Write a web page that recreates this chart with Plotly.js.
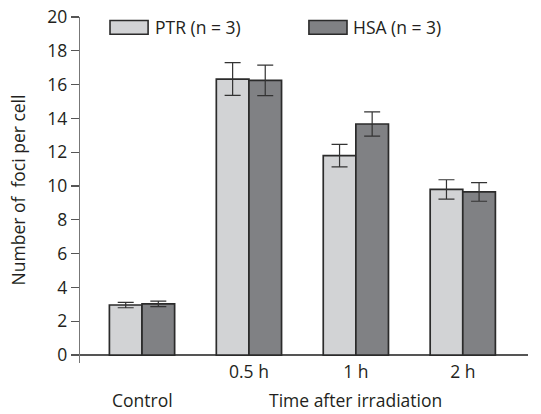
<!DOCTYPE html>
<html>
<head>
<meta charset="utf-8">
<script src="https://cdn.plot.ly/plotly-3.0.1.min.js"></script>
<style>html,body{margin:0;padding:0;background:#fff}#chart{width:541px;height:414px}</style>
</head>
<body>
<div id="chart"></div>
<script>
const categories = ["Control", "0.5 h", "1 h", "2 h"];
const seriesNames = ["PTR (n = 3)", "HSA (n = 3)"];
const ptrValues = [2.96, 16.33, 11.8, 9.8];
const ptrErrors = [0.16, 0.97, 0.67, 0.57];
const hsaValues = [3.03, 16.25, 13.67, 9.65];
const hsaErrors = [0.16, 0.9, 0.72, 0.55];
const yTicks = [0, 2, 4, 6, 8, 10, 12, 14, 16, 18, 20];
const xTitle = "Time after irradiation";
const yTitle = "Number of  foci per cell";

const FONT = "Open Sans, Noto Sans, sans-serif";
const FS = 17.5;
const TXT = "#231f20";
const colors = ["#d2d3d5", "#808184"];
const edge = "#2b2b2b";

function bar(name, vals, errs, color) {
  return {
    type: "bar", name: name, x: categories, y: vals,
    marker: {color: color, line: {color: edge, width: 1.7}},
    error_y: {type: "data", array: errs, visible: true, color: "#333", thickness: 1.2, width: 8},
    showlegend: false, hoverinfo: "skip"
  };
}
const data = [
  bar(seriesNames[0], ptrValues, ptrErrors, colors[0]),
  bar(seriesNames[1], hsaValues, hsaErrors, colors[1])
];

const legendX = [0.067, 0.511];
const shapes = [];
const annotations = [];
seriesNames.forEach((n, i) => {
  shapes.push({type: "rect", xref: "paper", yref: "paper",
    x0: legendX[i], x1: legendX[i] + 0.085, y0: 0.950, y1: 0.990,
    fillcolor: colors[i], line: {color: edge, width: 1.6}});
  annotations.push({xref: "paper", yref: "paper", x: legendX[i] + 0.095, y: 0.970,
    xanchor: "left", yanchor: "middle", text: n, showarrow: false,
    font: {family: FONT, size: FS, color: TXT}});
});
annotations.push({xref: "x", yref: "paper", x: categories[0], y: -0.108,
  xanchor: "center", yanchor: "middle", text: categories[0], showarrow: false,
  font: {family: FONT, size: FS, color: TXT}});
annotations.push({xref: "x", yref: "paper", x: categories[2], y: -0.108,
  xanchor: "center", yanchor: "middle", text: xTitle, showarrow: false,
  font: {family: FONT, size: FS, color: TXT}});

const layout = {
  width: 541, height: 414,
  margin: {l: 80, r: 13, t: 17, b: 51, pad: 0},
  paper_bgcolor: "#fff", plot_bgcolor: "#fff",
  barmode: "group", bargap: 0.39, bargroupgap: 0,
  font: {family: FONT, size: FS, color: TXT},
  showlegend: false,
  xaxis: {
    type: "category", range: [-0.58, 3.61],
    tickmode: "array", tickvals: categories.slice(1), ticktext: categories.slice(1),
    ticks: "", showline: false, showgrid: false, zeroline: false,
    tickfont: {family: FONT, size: FS, color: TXT}, ticklabelstandoff: -4
  },
  xaxis2: {
    overlaying: "x", anchor: "y", side: "bottom", type: "linear",
    range: [-0.58, 3.61], tickmode: "array", tickvals: [0.5, 1.5, 2.5, 3.61],
    ticks: "inside", ticklen: 8, tickwidth: 1.2, tickcolor: "#444",
    showticklabels: false, showline: false, showgrid: false, zeroline: false
  },
  yaxis: {
    range: [-0.47, 20], tickmode: "array", tickvals: yTicks,
    ticks: "outside", ticklen: 8, tickwidth: 1.2, tickcolor: "#555",
    showline: true, linecolor: "#777", linewidth: 1.2,
    showgrid: false, zeroline: true, zerolinecolor: "#555", zerolinewidth: 1.4,
    tickfont: {family: FONT, size: FS, color: TXT},
    title: {text: yTitle, font: {family: FONT, size: FS, color: TXT}, standoff: 17}
  },
  shapes: shapes,
  annotations: annotations
};
Plotly.newPlot("chart", data, layout, {staticPlot: true, displayModeBar: false});
</script>
</body>
</html>
